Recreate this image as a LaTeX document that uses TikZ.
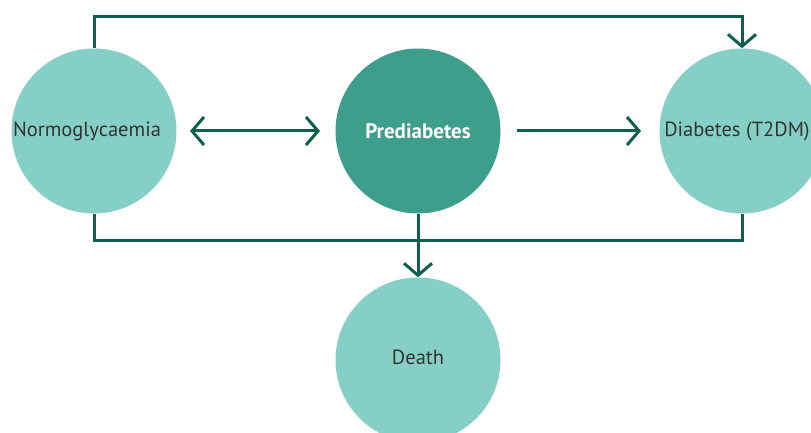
\documentclass[tikz,border=0pt]{standalone}
\usepackage{fontspec}
\setmainfont{PT Sans}
\usetikzlibrary{arrows.meta}
\definecolor{lightteal}{HTML}{86CFC6}
\definecolor{darkteal}{HTML}{3D9E8C}
\definecolor{linegreen}{HTML}{0F5F50}
\definecolor{txt}{HTML}{333333}
\tikzset{
  x=1pt,y=-1pt,
  state/.style={circle,fill=lightteal,minimum size=165pt,inner sep=0pt,text=txt,font=\fontsize{20.5}{24}\selectfont},
  keystate/.style={state,fill=darkteal,text=white,font=\fontsize{21}{24}\selectfont\bfseries},
  barb/.tip={Straight Barb[length=12pt,width=28pt,line width=3pt]},
  conn/.style={draw=linegreen,line width=3pt},
  tip/.style={-barb},
}
\begin{document}
\begin{tikzpicture}
\useasboundingbox (0,0) rectangle (811,433);
\node[state] (normo) at (94,131) {\hspace*{-14pt}Normoglycaemia};
\node[keystate] (pre) at (418,131) {Prediabetes};
\node[state] (diab) at (742,131) {\hspace*{-10pt}Diabetes (T2DM)};
\node[state] (death) at (418,360) {\raisebox{5pt}{Death}};
\coordinate (tl) at (94,17);
\coordinate (tr) at (742,17);
\coordinate (bl) at (94,240);
\coordinate (br) at (742,240);
\coordinate (al) at (190,131);
\coordinate (ar) at (320,131);
\coordinate (bl2) at (517,131);
\coordinate (br2) at (641,131);
\draw[conn,tip] (normo.north) -- (tl) -- (tr) -- (diab.north);
\draw[conn] (normo.south) -- (bl) -- (br) -- (diab.south);
\draw[conn,tip] (pre.south) -- (death.north);
\draw[conn,barb-barb] (al) -- (ar);
\draw[conn,tip] (bl2) -- (br2);
\end{tikzpicture}
\end{document}
